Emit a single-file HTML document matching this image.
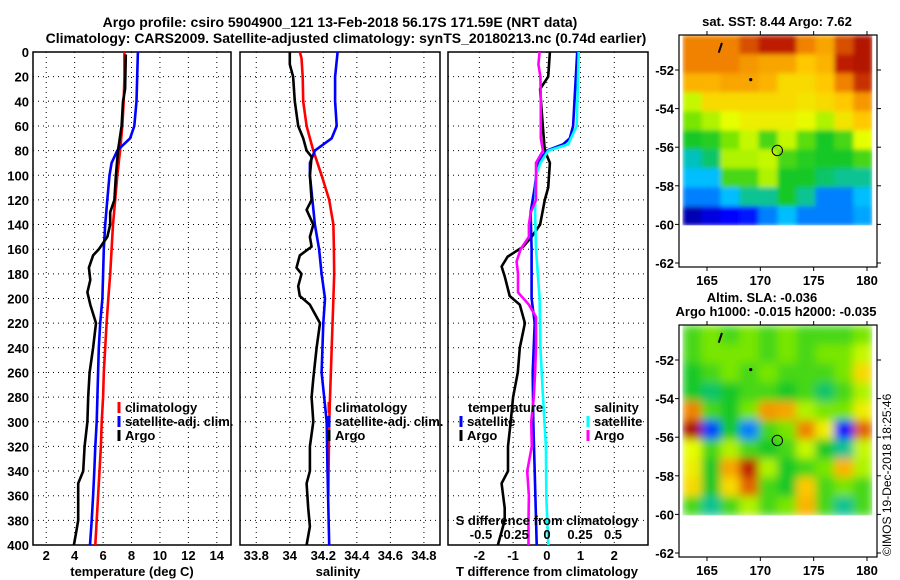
<!DOCTYPE html>
<html><head><meta charset="utf-8">
<style>
html,body{margin:0;padding:0;background:#fff;}
svg{display:block;font-family:"Liberation Sans",sans-serif;font-weight:bold;}
</style></head>
<body>
<svg id="fig" width="900" height="580" viewBox="0 0 900 580" xmlns="http://www.w3.org/2000/svg">
<text x="340" y="27" font-size="14" text-anchor="middle">Argo profile: csiro 5904900_121 13-Feb-2018 56.17S 171.59E (NRT data)</text>
<text x="346" y="43" font-size="14" text-anchor="middle">Climatology: CARS2009. Satellite-adjusted climatology: synTS_20180213.nc (0.74d earlier)</text>
<text x="777" y="26" font-size="13" text-anchor="middle">sat. SST: 8.44 Argo: 7.62</text>
<text x="762" y="302" font-size="13" text-anchor="middle">Altim. SLA: -0.036</text>
<text x="776" y="316" font-size="13" text-anchor="middle">Argo h1000: -0.015 h2000: -0.035</text>
<text transform="translate(891,556) rotate(-90)" font-size="12" font-weight="normal">©IMOS 19-Dec-2018 18:25:46</text>
<g id="plots"></g>
</svg>
<script>
// ---- profile data ----
const depthRed=[0,20,40,60,80,100,120,140,160,180,200,220,240,260,280,300,320,340,360,380,400];
const tempClim=[7.5,7.5,7.45,7.35,7.2,7.0,6.85,6.7,6.6,6.5,6.37,6.25,6.15,6.05,6.0,5.9,5.85,5.75,5.65,5.55,5.45];
const depthBlueT=[0,20,40,60,70,80,90,100,120,140,160,180,200,220,240,260,280,300,320,340,360,380,400];
const tempSat=[8.45,8.4,8.35,8.2,7.9,7.0,6.6,6.45,6.3,6.15,6.05,6.0,5.95,5.8,5.7,5.65,5.6,5.55,5.45,5.38,5.3,5.2,5.08];
const depthArgoT=[2,30,40,60,80,100,120,130,140,150,160,165,175,185,195,205,220,240,260,280,300,320,340,350,380,390,400];
const tempArgo=[7.6,7.55,7.4,7.3,7.05,6.9,6.8,6.5,6.5,6.3,5.7,5.3,5.0,5.1,4.9,5.1,5.5,5.3,5.05,4.95,4.9,4.7,4.6,4.25,4.25,4.1,3.95];

const depthSalClim=[0,5,20,40,60,80,100,120,140,160,180,200,240,300,360];
const salClim=[34.06,34.07,34.077,34.08,34.1,34.14,34.19,34.235,34.26,34.263,34.265,34.26,34.25,34.235,34.23];
const depthSalSat=[0,20,40,60,70,80,90,100,120,140,160,180,200,220,260,300,340,400];
const salSat=[34.285,34.27,34.27,34.28,34.25,34.15,34.12,34.12,34.135,34.15,34.175,34.19,34.21,34.2,34.19,34.22,34.225,34.235];
const depthSalArgo=[0,10,20,40,60,70,80,85,100,120,128,140,150,158,165,175,180,190,198,205,220,240,265,280,300,320,340,350,370,385,400];
const salArgo=[34.0,34.0,34.02,34.03,34.05,34.08,34.1,34.13,34.12,34.13,34.1,34.14,34.12,34.13,34.06,34.04,34.07,34.05,34.06,34.12,34.18,34.16,34.14,34.13,34.14,34.12,34.12,34.1,34.11,34.12,34.1];

const depthDT=[0,20,30,60,80,90,110,120,140,150,158,166,174,182,198,205,220,240,260,280,300,320,340,350,370,380,400];
const tDiffArgo=[0.09,0.04,-0.2,-0.12,-0.06,0.09,0.04,-0.06,-0.2,-0.45,-0.7,-1.16,-1.34,-1.25,-1.1,-0.8,-0.65,-0.8,-0.86,-1.0,-1.07,-1.15,-1.15,-1.34,-1.25,-1.25,-1.45];
const depthDTs=[0,60,70,75,80,90,110,130,160,200,220,260,300,340,400];
const tDiffSat=[0.9,0.78,0.68,0.48,0,-0.27,-0.36,-0.48,-0.45,-0.45,-0.36,-0.42,-0.4,-0.36,-0.3];
const depthDS=[0,60,75,80,90,100,130,160,200,240,280,320,360,400];
const sDiffSat=[0.24,0.225,0.16,0.01,-0.05,-0.083,-0.09,-0.083,-0.056,-0.05,-0.03,-0.008,-0.005,0.01];
const depthDSa=[0,10,20,40,70,80,90,120,130,140,150,160,170,180,195,205,215,240,260,280,300,320,340,360,380,400];
const sDiffArgo=[-0.056,-0.065,-0.05,-0.047,-0.047,-0.03,-0.083,-0.083,-0.123,-0.137,-0.137,-0.2,-0.23,-0.22,-0.22,-0.137,-0.083,-0.083,-0.09,-0.1,-0.12,-0.115,-0.15,-0.137,-0.14,-0.14];

const depthTicks=[0,20,40,60,80,100,120,140,160,180,200,220,240,260,280,300,320,340,360,380,400];
const tempTicks=[2,4,6,8,10,12,14];
const salTicks=[33.8,34,34.2,34.4,34.6,34.8];
const salTickLabels=["33.8","34","34.2","34.4","34.6","34.8"];
const dTTicks=[-2,-1,0,1,2];
const dSTickLabels=["-0.5","-0.25","0","0.25","0.5"];
const dSTicks=[-0.5,-0.25,0,0.25,0.5];

// ---- map data (values 0..1 on colour scale) ----
const lonTicks=[165,170,175,180];
const latTicks=[-52,-54,-56,-58,-60,-62];
const sstGrid=[
[0.85,0.85,0.85,0.9,0.95,0.95,0.85,0.8,0.9,0.97],
[0.85,0.85,0.85,0.82,0.8,0.8,0.75,0.78,0.95,0.97],
[0.78,0.78,0.8,0.8,0.78,0.72,0.72,0.75,0.85,0.93],
[0.62,0.72,0.72,0.72,0.72,0.72,0.7,0.72,0.75,0.82],
[0.55,0.6,0.65,0.68,0.68,0.68,0.66,0.6,0.7,0.75],
[0.45,0.47,0.55,0.62,0.5,0.62,0.52,0.45,0.5,0.65],
[0.38,0.42,0.6,0.6,0.62,0.5,0.47,0.45,0.45,0.5],
[0.35,0.35,0.5,0.5,0.6,0.45,0.45,0.42,0.4,0.4],
[0.3,0.3,0.35,0.4,0.4,0.45,0.4,0.3,0.3,0.35],
[0.08,0.15,0.2,0.22,0.3,0.35,0.3,0.3,0.3,0.33]];
const slaGrid=[
[0.5,0.55,0.5,0.55,0.5,0.55,0.5,0.5,0.5,0.55],
[0.5,0.55,0.55,0.55,0.5,0.55,0.5,0.55,0.55,0.62],
[0.45,0.5,0.55,0.5,0.55,0.5,0.5,0.5,0.55,0.72],
[0.45,0.42,0.45,0.5,0.5,0.45,0.5,0.42,0.5,0.6],
[0.85,0.5,0.45,0.55,0.82,0.8,0.6,0.55,0.55,0.68],
[0.98,0.25,0.45,0.3,0.5,0.55,0.85,0.68,0.2,0.88],
[0.65,0.5,0.6,0.5,0.45,0.5,0.62,0.45,0.4,0.62],
[0.68,0.45,0.8,0.95,0.6,0.45,0.5,0.55,0.78,0.6],
[0.72,0.45,0.72,0.88,0.5,0.45,0.75,0.5,0.55,0.5],
[0.5,0.4,0.5,0.6,0.5,0.55,0.78,0.5,0.4,0.5]];
const argoLon=[171.59];
const argoLat=[-56.17];

const NS="http://www.w3.org/2000/svg";
const root=document.getElementById('plots');
function mk(tag,attrs,parent){const e=document.createElementNS(NS,tag);for(const k in attrs)e.setAttribute(k,attrs[k]);(parent||root).appendChild(e);return e;}
function txt(s,x,y,size,anchor,parent){const t=mk('text',{x:x,y:y,'font-size':size,'text-anchor':anchor||'middle'},parent);t.textContent=s;return t;}

const PT=52,PB=545;
const yD=d=>PT+(PB-PT)*d/400;

function panel(name,x0,x1,vmin,vmax,ticks,labels,grid){
  const g=mk('g',{});
  
  
  const sx=v=>x0+(x1-x0)*(v-vmin)/(vmax-vmin);
  depthTicks.forEach(d=>{
    if(d>0&&d<400){const l=mk('line',{x1:x0,x2:x1,y1:yD(d),y2:yD(d),stroke:'#000','stroke-width':1,'stroke-dasharray':'1,4'},g);
    }
  });
  ticks.forEach((t,i)=>{
    const l=mk('line',{x1:sx(t),x2:sx(t),y1:PT,y2:PB,stroke:'#000','stroke-width':1,'stroke-dasharray':'1,4'},g);
    
    if(labels){const tl=txt(labels[i],sx(t),560,13,'middle',g);
    }
  });
  const r=mk('rect',{x:x0,y:PT,width:x1-x0,height:PB-PT,fill:'none',stroke:'#000','stroke-width':1.5},g);
  
  return {g,sx};
}
function series(p,name,xs,ds,color){
  const pts=xs.map((v,i)=>p.sx(v).toFixed(1)+','+yD(ds[i]).toFixed(1)).join(' ');
  const l=mk('polyline',{points:pts,fill:'none',stroke:color,'stroke-width':2.6,'stroke-linejoin':'round'},p.g);
  
  
}
function legend(p,x,y,color,label,name){
  const g=mk('g',{},p.g);
  
  
  mk('rect',{x:x-1.5,y:y-10,width:3,height:11,fill:color},g);
  txt(label,x+6,y,13,'start',g);
}

// y-axis labels
depthTicks.forEach(d=>{const t=txt(String(d),29,yD(d)+5,13,'end');
});

// Panel 1 temperature
const p1=panel('temperature-panel',33,231,1.07,15.0,tempTicks,tempTicks.map(String));
series(p1,'temp-climatology-line',tempClim,depthRed,'#ff0000');
series(p1,'temp-satellite-line',tempSat,depthBlueT,'#0000ff');
series(p1,'temp-argo-line',tempArgo,depthArgoT,'#000000');
legend(p1,119,412,'#ff0000','climatology','legend-climatology');
legend(p1,119,426,'#0000ff','satellite-adj. clim.','legend-satellite');
legend(p1,119,440,'#000000','Argo','legend-argo');
let t=txt('temperature (deg C)',132,576,13);

// Panel 2 salinity
const p2=panel('salinity-panel',240,440,33.703,34.896,salTicks,salTickLabels);
series(p2,'sal-climatology-line',salClim,depthSalClim,'#ff0000');
series(p2,'sal-satellite-line',salSat,depthSalSat,'#0000ff');
series(p2,'sal-argo-line',salArgo,depthSalArgo,'#000000');
legend(p2,329,412,'#ff0000','climatology','legend-climatology');
legend(p2,329,426,'#0000ff','satellite-adj. clim.','legend-satellite');
legend(p2,329,440,'#000000','Argo','legend-argo');
t=txt('salinity',338,576,13);

// Panel 3 differences
const p3=panel('difference-panel',448,648,-2.93,3.0,dTTicks,dTTicks.map(String));
const sxS=v=>547+v*132;
const pS={g:p3.g,sx:sxS};
series(p3,'tdiff-argo-line',tDiffArgo,depthDT,'#000000');
series(p3,'tdiff-satellite-line',tDiffSat,depthDTs,'#0000ff');
series(pS,'sdiff-satellite-line',sDiffSat,depthDS,'#00ffff');
series(pS,'sdiff-argo-line',sDiffArgo,depthDSa,'#ff00ff');
t=txt('temperature',468,412,13,'start',p3.g);
legend(p3,461,426,'#0000ff','satellite','legend-t-satellite');
legend(p3,461,440,'#000000','Argo','legend-t-argo');
t=txt('salinity',594,412,13,'start',p3.g);
legend(p3,588,426,'#00ffff','satellite','legend-s-satellite');
legend(p3,588,440,'#ff00ff','Argo','legend-s-argo');
t=txt('S difference from climatology',547,525,13,'middle',p3.g);
dSTicks.forEach((v,i)=>{const l=txt(dSTickLabels[i],sxS(v),539,13,'middle',p3.g);});
t=txt('T difference from climatology',547,576,13);

// ---- maps ----
const cStops=[[0,[0,0,128]],[0.2,[0,0,255]],[0.35,[0,190,255]],[0.45,[20,200,40]],[0.55,[120,230,0]],[0.65,[230,255,0]],[0.75,[255,200,0]],[0.85,[240,130,0]],[0.95,[190,30,0]],[1,[160,0,0]]];
function cmap(v){for(let i=1;i<cStops.length;i++){if(v<=cStops[i][0]){const a=cStops[i-1],b=cStops[i];const f=(v-a[0])/(b[0]-a[0]);
return 'rgb('+a[1].map((c,k)=>Math.round(c+(b[1][k]-c)*f)).join(',')+')';}}return 'rgb(160,0,0)';}

function map(name,top,grid,blur){
  const g=mk('g',{});
  
  
  const lonX=l=>707+(l-165)*(867-707)/15;
  const latY=la=>top+34+(-52-la)*(top+227-(top+34))/10;
  const fid='bl'+top;
  if(blur){const f=mk('filter',{id:fid,x:'-5%',y:'-5%',width:'110%',height:'110%'},g);mk('feGaussianBlur',{stdDeviation:blur},f);
    const cp=mk('clipPath',{id:'cp'+top},g);mk('rect',{x:lonX(162.7),y:latY(-50.2),width:lonX(180.5)-lonX(162.7),height:latY(-60.05)-latY(-50.2)},cp);}
  const cg=mk('g',blur?{filter:'url(#'+fid+')'}:{},mk('g',blur?{'clip-path':'url(#cp'+top+')'}:{},g));
  const nr=grid.length,nc=grid[0].length;
  const lon0=162.7,lon1=180.5,lat0=-50.2,lat1=-60.05;
  grid.forEach((row,i)=>row.forEach((v,j)=>{
    const xa=lonX(lon0+(lon1-lon0)*j/nc),xb=lonX(lon0+(lon1-lon0)*(j+1)/nc);
    const ya=latY(lat0+(lat1-lat0)*i/nr),yb=latY(lat0+(lat1-lat0)*(i+1)/nr);
    const c=mk('rect',{x:xa,y:ya,width:xb-xa+0.5,height:yb-ya+0.5,fill:cmap(v)},cg);
    
    
  }));
  const fr=mk('rect',{x:679,y:top-1,width:198,height:232,fill:'none',stroke:'#000','stroke-width':1.2},g);
  
  lonTicks.forEach(l=>{mk('line',{x1:lonX(l),x2:lonX(l),y1:top-1,y2:top-5,stroke:'#000'},g);mk('line',{x1:lonX(l),x2:lonX(l),y1:top+231,y2:top+235,stroke:'#000'},g);
    const tl=txt(String(l),lonX(l),top+249,13,'middle',g);});
  latTicks.forEach(la=>{mk('line',{x1:679,x2:675,y1:latY(la),y2:latY(la),stroke:'#000'},g);mk('line',{x1:877,x2:881,y1:latY(la),y2:latY(la),stroke:'#000'},g);
    const tl=txt(String(la),674,latY(la)+5,13,'end',g);});
  mk('circle',{cx:lonX(169.1),cy:latY(-52.5),r:1.6,fill:'#000'},g);
  mk('line',{x1:lonX(166.1),y1:latY(-51.1),x2:lonX(166.4),y2:latY(-50.6),stroke:'#000','stroke-width':2},g);
  const m=mk('circle',{cx:lonX(argoLon[0]),cy:latY(argoLat[0]),r:5.2,fill:'none',stroke:'#000','stroke-width':1},g);
  
}
map('sst-map',36,sstGrid,2.5);
map('sla-map',326,slaGrid,4.5);
</script>
</body></html>
